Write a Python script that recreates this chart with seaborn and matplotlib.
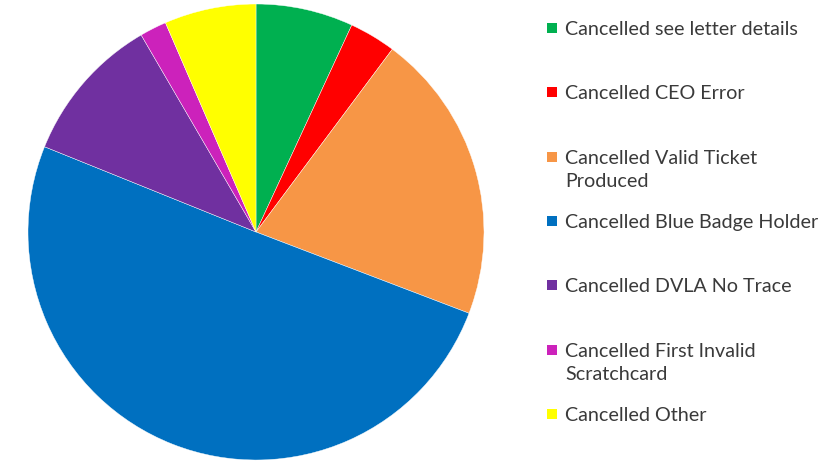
import matplotlib
matplotlib.use('Agg')
import matplotlib.pyplot as plt
import seaborn as sns
from matplotlib.patches import Rectangle

# slice labels and shares (percent), clockwise from 12 o'clock
labels = ['Cancelled see letter details',
          'Cancelled CEO Error',
          'Cancelled Valid Ticket\nProduced',
          'Cancelled Blue Badge Holder',
          'Cancelled DVLA No Trace',
          'Cancelled First Invalid\nScratchcard',
          'Cancelled Other']
shares = [6.9, 3.3, 20.6, 50.3, 10.5, 1.9, 6.5]
colors = ['#00B050', '#FF0000', '#F79646', '#0070C0', '#7030A0', '#CC22BB', '#FFFF00']

sns.set_theme(style='white')
plt.rcParams['font.family'] = ['Lato', 'DejaVu Sans']

W, H = 824, 461
fig = plt.figure(figsize=(W / 100, H / 100), dpi=100)
fig.patch.set_facecolor('white')

# pie axes: circle spans x 28..484, y 4..460 in pixels
ax = fig.add_axes([28 / W, 1 / H, 456 / W, 456 / H])
ax.pie(shares, colors=colors, startangle=90, counterclock=False, radius=1,
       wedgeprops=dict(linewidth=0.3, edgecolor='white'))
ax.set_xlim(-1, 1)
ax.set_ylim(-1, 1)
ax.set_aspect('equal')
ax.axis('off')

# legend drawn by hand to keep the uneven spacing of the original
y0, step = 28, 64.3
for i, (lab, col) in enumerate(zip(labels, colors)):
    yc = y0 + i * step
    fig.add_artist(Rectangle((547 / W, 1 - (yc + 5) / H), 10 / W, 10 / H,
                             transform=fig.transFigure, color=col, lw=0))
    fig.text(565 / W, 1 - (yc - 7) / H, lab, ha='left', va='top',
             fontsize=14.2, color='#3a3a3a', linespacing=1.45)

fig.savefig('out.png', dpi=100)
